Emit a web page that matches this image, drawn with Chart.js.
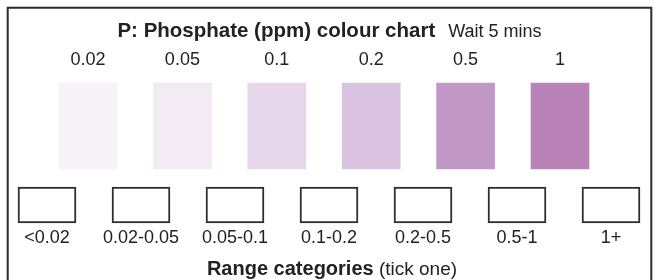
<!DOCTYPE html>
<html>
<head>
<meta charset="utf-8">
<script src="https://cdn.jsdelivr.net/npm/chart.js@4/dist/chart.umd.min.js"></script>
<style>
    body { margin: 0; background: #fff; }
    #wrap { width: 658px; height: 280px; }
</style>
</head>
<body>
<div id="wrap"><canvas id="colourChart" width="658" height="280"></canvas></div>
<script>
// Colour chart data
const swatchLabels = ['0.02', '0.05', '0.1', '0.2', '0.5', '1'];
const swatchColours = ['#f7f3f8', '#f2ebf4', '#e5d7e9', '#d9c2df', '#c197c5', '#b983b8'];
const rangeLabels = ['<0.02', '0.02-0.05', '0.05-0.1', '0.1-0.2', '0.2-0.5', '0.5-1', '1+'];
const swatchFill = [1, 1, 1, 1, 1, 1];
const boxFill = [1, 1, 1, 1, 1, 1, 1];

const FONT = '"Liberation Sans", Arial, Helvetica, sans-serif';
const TEXT = '#222';

// Frame + headings drawn around the plot
const framePlugin = {
    id: 'frame',
    beforeDraw(chart) {
        const ctx = chart.ctx;
        ctx.save();
        ctx.fillStyle = '#fff';
        ctx.fillRect(0, 0, chart.width, chart.height);
        ctx.strokeStyle = '#2b2b2b';
        ctx.lineWidth = 2;
        ctx.beginPath();
        ctx.moveTo(7.7, chart.height + 2);
        ctx.lineTo(7.7, 7.7);
        ctx.lineTo(651.3, 7.7);
        ctx.lineTo(651.3, chart.height + 2);
        ctx.stroke();
        ctx.restore();
    },
    afterDraw(chart) {
        const ctx = chart.ctx;
        ctx.save();
        ctx.fillStyle = TEXT;
        ctx.textBaseline = 'alphabetic';
        ctx.textAlign = 'left';

        // title line
        const t1 = 'P: Phosphate (ppm) colour chart';
        const t2 = 'Wait 5 mins';
        ctx.font = 'bold 20.5px ' + FONT;
        const w1 = ctx.measureText(t1).width;
        ctx.font = '18px ' + FONT;
        const w2 = ctx.measureText(t2).width;
        let x = 329.5 - (w1 + 13 + w2) / 2;
        ctx.font = 'bold 20.5px ' + FONT;
        ctx.fillText(t1, x, 36.7);
        ctx.font = '18px ' + FONT;
        ctx.fillText(t2, x + w1 + 13, 36.7);

        // axis caption
        const b1 = 'Range categories';
        const b2 = ' (tick one)';
        ctx.font = 'bold 20px ' + FONT;
        const v1 = ctx.measureText(b1).width;
        ctx.font = '19px ' + FONT;
        const v2 = ctx.measureText(b2).width;
        x = 332 - (v1 + v2) / 2;
        ctx.font = 'bold 20px ' + FONT;
        ctx.fillText(b1, x, 274.5);
        ctx.font = '19px ' + FONT;
        ctx.fillText(b2, x + v1, 274.5);
        ctx.restore();
    }
};

const ctx = document.getElementById('colourChart');
new Chart(ctx, {
    type: 'bar',
    data: {
        labels: rangeLabels,
        datasets: [
            {
                label: 'Colour',
                data: swatchLabels.map((l, i) => ({ x: i, y: swatchFill[i] })),
                backgroundColor: swatchColours,
                borderWidth: 0,
                barThickness: 58,
                grouped: false,
                xAxisID: 'xs',
                yAxisID: 'ys'
            },
            {
                label: 'Range',
                data: boxFill,
                backgroundColor: '#ffffff',
                borderColor: '#2e2e2e',
                borderWidth: 2,
                borderSkipped: false,
                barThickness: 58,
                grouped: false,
                xAxisID: 'x',
                yAxisID: 'yb'
            }
        ]
    },
    options: {
        responsive: false,
        animation: false,
        layout: { padding: { top: 40, left: 0, right: 0, bottom: 0 } },
        plugins: {
            legend: { display: false },
            tooltip: { enabled: false }
        },
        scales: {
            x: {
                type: 'category',
                position: 'bottom',
                offset: true,
                grid: { display: false, drawTicks: false },
                border: { display: false },
                ticks: {
                    color: TEXT,
                    font: { family: FONT, size: 18 },
                    padding: 3,
                    maxRotation: 0,
                    autoSkip: false
                },
                afterFit: (s) => { s.height = 56; }
            },
            xs: {
                type: 'linear',
                position: 'top',
                offset: false,
                min: -0.932,
                max: 6.038,
                grid: { display: false, drawTicks: false, offset: false },
                border: { display: false },
                afterBuildTicks: (s) => { s.ticks = swatchLabels.map((l, i) => ({ value: i })); },
                ticks: {
                    color: TEXT,
                    font: { family: FONT, size: 18 },
                    padding: 0,
                    maxRotation: 0,
                    autoSkip: false,
                    callback: (v) => swatchLabels[v]
                },
                afterFit: (s) => { s.height = 31; }
            },
            ys: { display: false, min: -0.6395, max: 1.1395 },
            yb: { display: false, min: -0.028, max: 4.222 }
        }
    },
    plugins: [framePlugin]
});
</script>
</body>
</html>
